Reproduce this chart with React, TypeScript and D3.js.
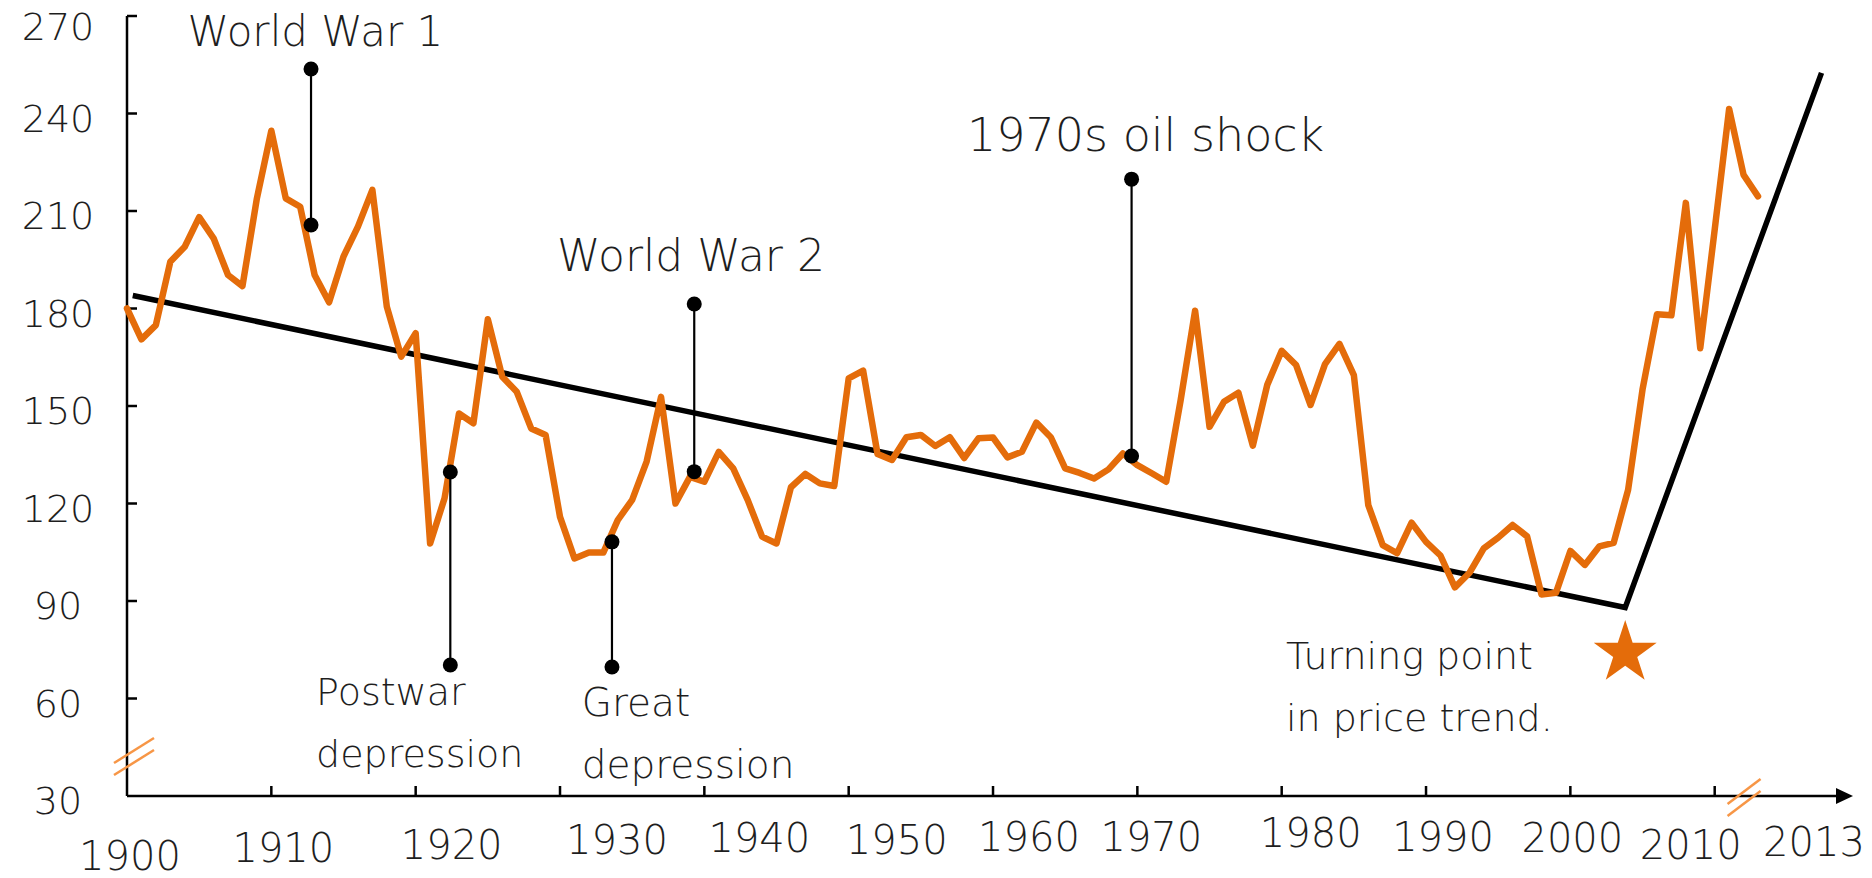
import * as d3 from "d3";

// Commodity price index, one value per year from 1900 to 2013
const startYear = 1900;
const priceIndex = [
  180.0, 170.5, 174.9, 194.4, 199.0, 208.1, 201.6, 190.3, 186.9, 213.9,
  234.7, 213.9, 211.3, 190.3, 181.9, 196.0, 205.2, 216.5, 180.6, 165.2,
  172.4, 107.7, 121.6, 147.7, 144.7, 176.7, 159.0, 154.4, 143.1, 141.1,
  115.9, 103.1, 104.9, 104.9, 114.9, 121.1, 132.9, 152.8, 120.0, 128.2,
  126.7, 135.9, 130.8, 121.1, 109.8, 107.7, 125.0, 129.1, 126.2, 125.4,
  158.5, 160.9, 135.2, 133.4, 140.4, 141.1, 137.7, 140.4, 134.0, 140.1,
  140.3, 134.2, 135.9, 144.9, 140.4, 130.8, 129.4, 127.7, 130.5, 135.4,
  131.8, 129.3, 126.7, 151.8, 179.3, 143.6, 151.3, 154.1, 137.8, 156.5,
  167.0, 162.6, 150.3, 162.9, 169.1, 159.5, 119.5, 107.2, 104.7, 114.1,
  108.2, 104.0, 94.2, 98.6, 106.2, 109.5, 113.4, 109.9, 92.0, 92.5,
  105.4, 101.1, 106.8, 107.9, 124.2, 155.1, 178.2, 177.9, 212.5, 167.8,
  204.3, 241.4, 221.1, 214.5,
];

// Hand-drawn trend line: long decline, then the turn
const trendYears = [1900.4, 2003.8, 2017.4];
const trendValues = [184, 88, 252.5];

const turningYear = 2003.8;
const turningValue = 74;

const yTicks = [30, 60, 90, 120, 150, 180, 210, 240, 270];
const xTicks = [1910, 1920, 1930, 1940, 1950, 1960, 1970, 1980, 1990, 2000, 2010];
const xLabels = ["1900", "1910", "1920", "1930", "1940", "1950", "1960", "1970", "1980", "1990", "2000", "2010", "2013"];

// annotation pins: year, lower dot value, upper dot value
const pinNames = ["World War 1", "Postwar depression", "Great depression", "World War 2", "1970s oil shock"];
const pinYears = [1912.75, 1922.4, 1933.6, 1939.3, 1969.6];
const pinLow = [205.7, 70.3, 69.7, 129.8, 134.6];
const pinHigh = [253.7, 129.7, 108.2, 181.4, 219.8];

// annotation texts, anchored in data space (year, value of first baseline)
const noteLines = [
  ["World War 1"],
  ["World War 2"],
  ["1970s oil shock"],
  ["Postwar", "depression"],
  ["Great", "depression"],
  ["Turning point", "in price trend."],
];
const noteYears = [1904.2, 1929.8, 1958.2, 1913.1, 1931.5, 1980.3];
const noteValues = [260.8, 191.5, 228.5, 58, 54.6, 69];

const W = 1872;
const H = 878;
const orange = "#E46C0A";
const ink = "#1e1e1e";
const font = "'DejaVu Sans', 'Liberation Sans', sans-serif";

// small hand-placement nudges for the x labels [dx, dy]
const xLabelNudge: Record<string, [number, number]> = {
  "1900": [3, 16], "1910": [12, 8], "1920": [36, 5], "1930": [57, 0], "1940": [55, -2],
  "1950": [48, 0], "1960": [36, -3], "1970": [14, -3], "1980": [29, -7], "1990": [17, -3],
  "2000": [2, -2], "2010": [-24, 5], "2013": [56, 2],
};
const noteSize = [42, 44, 46, 38, 39, 38];

export default function App() {
  const x = d3.scaleLinear().domain([1900, 2013]).range([127, 1758]);
  const y = d3.scaleLinear().domain([30, 270]).range([796, 16]);

  const series = priceIndex.map((v, i) => ({ year: startYear + i, value: v }));
  const line = d3
    .line<{ year: number; value: number }>()
    .x((d) => x(d.year))
    .y((d) => y(d.value));

  const trend = trendYears.map((yr, i) => ({ year: yr, value: trendValues[i] }));

  const axisX = x(1900);
  const axisY = y(30);
  const axisEnd = 1853;
  const star = d3.symbol().type(d3.symbolStar).size(1230)();

  // break marks: on the y axis near 42, on the x axis near 2012
  const yb = y(42);
  const xb = x(2012);

  return (
    <svg
      width={W}
      height={H}
      style={{ position: "absolute", left: 0, top: 0, display: "block", background: "#fff" }}
      fontFamily={font}
    >
      {/* y axis */}
      <line x1={axisX} x2={axisX} y1={y(270)} y2={axisY} stroke="#000" strokeWidth={2.5} />
      {yTicks.map((t) => (
        <g key={t}>
          {t !== 30 && <line x1={axisX} x2={axisX + 10} y1={y(t)} y2={y(t)} stroke="#000" strokeWidth={2.5} />}
          <text x={58} y={y(t) + (t === 270 ? 11 : 5)} textAnchor="middle" dominantBaseline="central" fontSize={38} fill={ink} fontWeight={300}>
            {t}
          </text>
        </g>
      ))}

      {/* x axis with arrow */}
      <line x1={axisX} x2={axisEnd - 12} y1={axisY} y2={axisY} stroke="#000" strokeWidth={2.5} />
      <path d={`M${axisEnd},${axisY} L${axisEnd - 17},${axisY - 8} L${axisEnd - 17},${axisY + 8} Z`} fill="#000" />
      {xTicks.map((t) => (
        <line key={t} x1={x(t)} x2={x(t)} y1={axisY} y2={axisY - 10} stroke="#000" strokeWidth={2.5} />
      ))}
      {xLabels.map((lab) => {
        const [dx, dy] = xLabelNudge[lab] || [0, 0];
        return (
          <text key={lab} x={x(+lab) + dx} y={840 + dy} textAnchor="middle" dominantBaseline="central" fontSize={40} fill={ink} fontWeight={300}>
            {lab}
          </text>
        );
      })}

      {/* axis breaks */}
      {[-6, 6].map((o) => (
        <line key={"yb" + o} x1={axisX - 13} y1={yb + 12 + o} x2={axisX + 27} y2={yb - 13 + o} stroke="#F79646" strokeWidth={2.5} />
      ))}
      {[-6, 6].map((o) => (
        <line key={"xb" + o} x1={xb - 16} y1={axisY + 14 + o} x2={xb + 17} y2={axisY - 11 + o} stroke="#F79646" strokeWidth={2.5} />
      ))}

      {/* trend line */}
      <path d={line(trend) || ""} fill="none" stroke="#000" strokeWidth={5.5} strokeLinejoin="miter" />

      {/* price index */}
      <path d={line(series) || ""} fill="none" stroke={orange} strokeWidth={6.5} strokeLinejoin="round" strokeLinecap="round" />

      {/* event pins */}
      {pinNames.map((n, i) => (
        <g key={n}>
          <line x1={x(pinYears[i])} x2={x(pinYears[i])} y1={y(pinLow[i])} y2={y(pinHigh[i])} stroke="#000" strokeWidth={2.2} />
          <circle cx={x(pinYears[i])} cy={y(pinLow[i])} r={7.5} fill="#000" />
          <circle cx={x(pinYears[i])} cy={y(pinHigh[i])} r={7.5} fill="#000" />
        </g>
      ))}

      {/* turning point star */}
      <path d={star || ""} transform={`translate(${x(turningYear)},${y(turningValue)})`} fill={orange} />

      {/* annotation texts */}
      {noteLines.map((lines, i) => (
        <text key={i} x={x(noteYears[i])} y={y(noteValues[i])} fontSize={noteSize[i]} fill={ink} fontWeight={300}>
          {lines.map((l, j) => (
            <tspan key={j} x={x(noteYears[i])} dy={j === 0 ? 0 : 62}>
              {l}
            </tspan>
          ))}
        </text>
      ))}
    </svg>
  );
}
